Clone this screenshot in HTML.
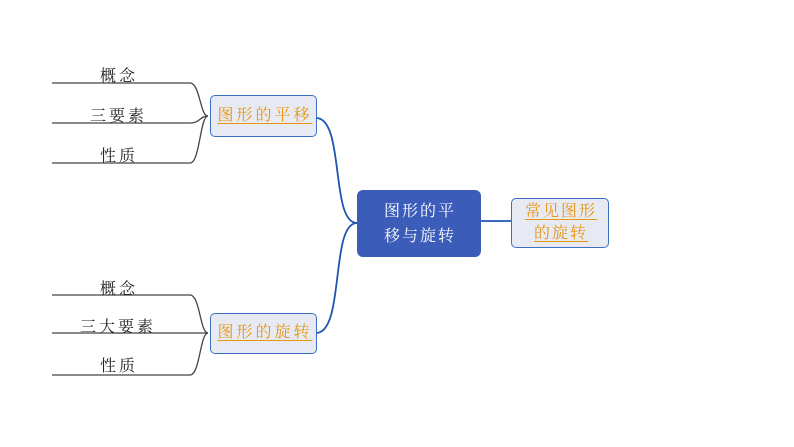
<!DOCTYPE html>
<html><head><meta charset="utf-8"><style>
body{margin:0;width:794px;height:447px;background:#fff;position:relative;overflow:hidden;font-family:"Liberation Serif","Noto Serif CJK SC",serif}
.b{position:absolute;box-sizing:border-box;border:1.5px solid #3a6fc4;border-radius:5px;background:#e8eaf3;color:#e6960f;font-size:16px;text-align:center;text-decoration:underline;text-underline-offset:3px;letter-spacing:3px;padding-left:3px}
.l{position:absolute;font-size:16px;color:#222;letter-spacing:3px}
</style></head><body>
<svg width="794" height="447" style="position:absolute;left:0;top:0">
<g fill="none" stroke="#444" stroke-width="1.3">
<path d="M52 83 H190 C200 83 200 116 208 116"/>
<path d="M52 123 H190 C200 123 200 116 208 116"/>
<path d="M52 163 H190 C200 163 200 116 208 116"/>
<path d="M52 295 H190 C200 295 200 333 208 333"/>
<path d="M52 333 H190 C200 333 200 333 208 333"/>
<path d="M52 375 H190 C200 375 200 333 208 333"/>
</g>
<g fill="none" stroke="#1f56b0" stroke-width="1.8">
<path d="M316 118 C345 118 330 223 357 223"/>
<path d="M316 333 C345 333 330 223 357 223"/>
<path d="M480 221 H511"/>
</g>
</svg>
<div class="l" style="left:100px;top:63px">概念</div>
<div class="l" style="left:90px;top:103px">三要素</div>
<div class="l" style="left:100px;top:143px">性质</div>
<div class="l" style="left:100px;top:276px">概念</div>
<div class="l" style="left:80px;top:314px">三大要素</div>
<div class="l" style="left:100px;top:353px">性质</div>
<div class="b" style="left:210px;top:95px;width:107px;height:42px;line-height:39px">图形的平移</div>
<div class="b" style="left:210px;top:313px;width:107px;height:41px;line-height:38px">图形的旋转</div>
<div class="b" style="left:511px;top:198px;width:98px;height:50px;line-height:22px;padding-top:2px;letter-spacing:2px;padding-left:2px">常见图形<br>的旋转</div>
<div style="position:absolute;left:357px;top:190px;width:124px;height:67px;background:#3b5cb8;border-radius:6px;color:#fff;font-size:16px;text-align:center;line-height:25px;box-sizing:border-box;padding-top:9px;padding-left:2px;letter-spacing:2px">图形的平<br>移与旋转</div>
</body></html>
